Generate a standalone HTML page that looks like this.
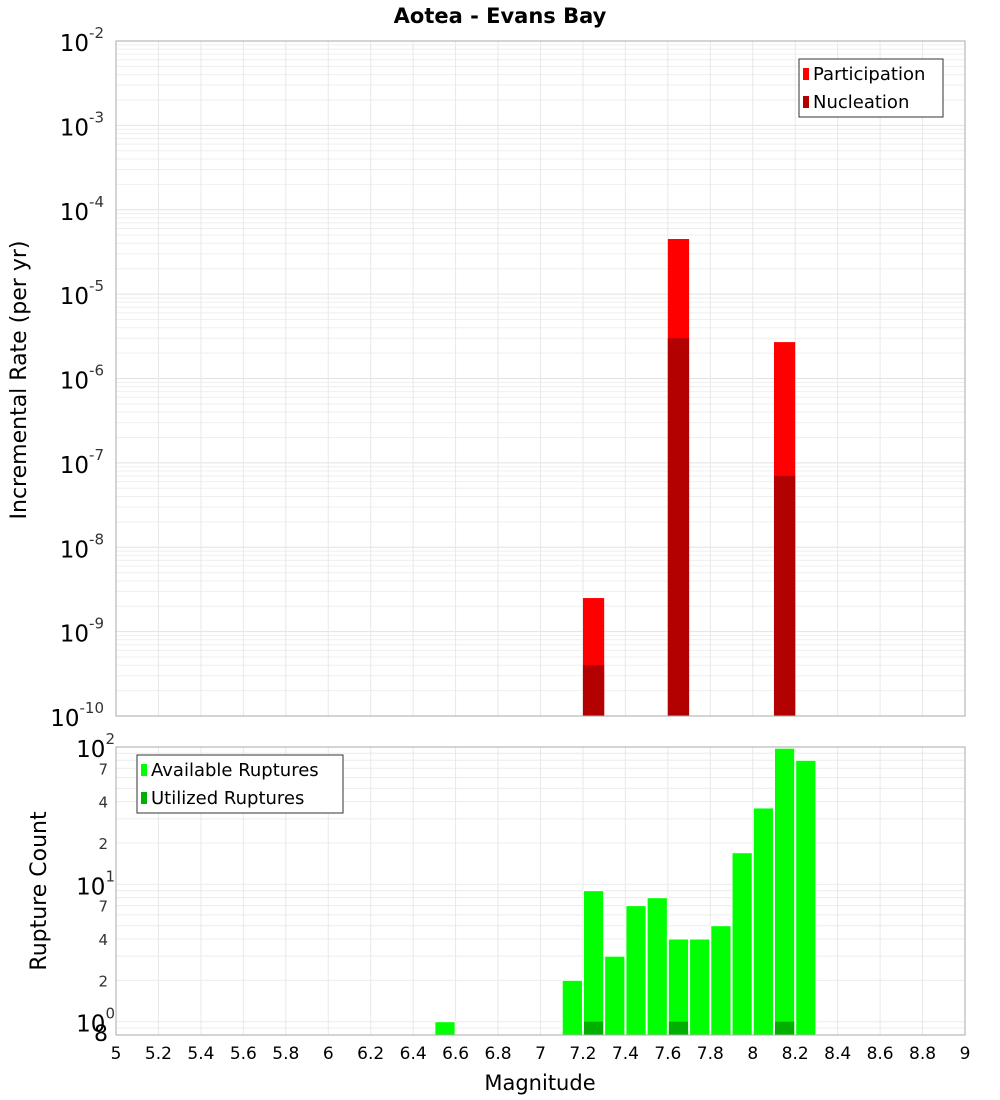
<!DOCTYPE html>
<html><head><meta charset="utf-8"><style>
body{margin:0;background:#fff;}
svg{display:block;font-family:"DejaVu Sans","Liberation Sans",sans-serif;}
</style></head><body>
<svg id="c" width="1000" height="1100"></svg>
<script>
const mags=[7.25,7.65,8.15];
const participation=[2.5e-9,4.5e-5,2.7e-6];
const nucleation=[4e-10,3e-6,7e-8];
const countMags=[6.55,7.15,7.25,7.35,7.45,7.55,7.65,7.75,7.85,7.95,8.05,8.15,8.25];
const available=[1,2,9,3,7,8,4,4,5,17,36,98,80];
const utilMags=[7.25,7.65,8.15];
const utilized=[1,1,1];
const xTicks=[5,5.2,5.4,5.6,5.8,6,6.2,6.4,6.6,6.8,7,7.2,7.4,7.6,7.8,8,8.2,8.4,8.6,8.8,9];
const topExp=[-2,-3,-4,-5,-6,-7,-8,-9,-10];
const botExp=[2,1,0];
const botMinor=[2,4,7];

const NS="http://www.w3.org/2000/svg";
const svg=document.getElementById('c');
function el(t,a,p){const e=document.createElementNS(NS,t);for(const k in a)e.setAttribute(k,a[k]);(p||svg).appendChild(e);return e;}
const L=116,R=965;
const X=v=>L+(v-5)/4*(R-L);
const T0=41,T1=716;
const YT=v=>T0+(-2-Math.log10(v))/8*(T1-T0);
const B0=747,B1=1035,Bmin=0.8,Bmax=100;
const YB=v=>B0+(Math.log10(Bmax)-Math.log10(v))/(Math.log10(Bmax)-Math.log10(Bmin))*(B1-B0);

// title
let t=el('text',{x:500,y:23,'text-anchor':'middle','font-size':21,'font-weight':'bold',fill:'#000'});t.textContent='Aotea - Evans Bay';


// top grid
const gT=el('g',{});
for(let e=-10;e<-2;e++)for(let m=1;m<10;m++){const y=YT(m*Math.pow(10,e));el('line',{x1:L,x2:R,y1:y,y2:y,stroke:m==1?'#e2e2e2':'#efefef','stroke-width':1},gT);}
xTicks.forEach(v=>el('line',{x1:X(v),x2:X(v),y1:T0,y2:T1,stroke:'#e8e8e8'},gT));
// bottom grid
const gB=el('g',{});
[0.8,0.9,1,2,3,4,5,6,7,8,9,10,20,30,40,50,60,70,80,90,100].forEach(v=>{const y=YB(v);el('line',{x1:L,x2:R,y1:y,y2:y,stroke:'#ececec'},gB);});
xTicks.forEach(v=>el('line',{x1:X(v),x2:X(v),y1:B0,y2:B1,stroke:'#e8e8e8'},gB));

// top bars
mags.forEach((m,i)=>{
 let r=el('rect',{x:X(m-0.05),y:YT(participation[i]),width:X(m+0.05)-X(m-0.05),height:T1-YT(participation[i]),fill:'#ff0000'});
 
 let n=el('rect',{x:X(m-0.05),y:YT(nucleation[i]),width:X(m+0.05)-X(m-0.05),height:T1-YT(nucleation[i]),fill:'#b30000'});
 
});
// bottom bars
countMags.forEach((m,i)=>{
 let r=el('rect',{x:X(m-0.05)+0.5,y:YB(available[i]),width:X(m+0.05)-X(m-0.05)-1,height:B1-YB(available[i]),fill:'#00ff00',stroke:'#fff','stroke-width':1});
 
});
utilMags.forEach((m,i)=>{
 let r=el('rect',{x:X(m-0.05)+1,y:YB(utilized[i]),width:X(m+0.05)-X(m-0.05)-2,height:B1-YB(utilized[i]),fill:'#00b000'});
 
});

// frames
let f1=el('rect',{x:L,y:T0,width:R-L,height:T1-T0,fill:'none',stroke:'#aaa'});
let f2=el('rect',{x:L,y:B0,width:R-L,height:B1-B0,fill:'none',stroke:'#aaa'});

// top y labels
topExp.forEach(e=>{
 const y=YT(Math.pow(10,e));
 const g=el('text',{x:104,y:y+10,'text-anchor':'end','font-size':23,fill:'#000'});
 
 const a=el('tspan',{},g);a.textContent='10';
 const b=el('tspan',{dy:-13,'font-size':15,fill:'#333'},g);b.textContent=String(e);
});
// bottom y labels
botExp.forEach(e=>{
 const y=YB(Math.pow(10,e));
 const g=el('text',{x:115,y:y+10,'text-anchor':'end','font-size':23,fill:'#000'});
 
 const a=el('tspan',{},g);a.textContent='10';
 const b=el('tspan',{dy:-13,'font-size':15,fill:'#333'},g);b.textContent=String(e);
});
[1,10].forEach(dec=>botMinor.forEach(m=>{
 let tx=el('text',{x:108,y:YB(m*dec)+6,'text-anchor':'end','font-size':15,fill:'#333'});tx.textContent=String(m);
 
}));
let e8=el('text',{x:108,y:1041,'text-anchor':'end','font-size':22,fill:'#000'});e8.textContent='8';


// x labels
xTicks.forEach(v=>{
 let tx=el('text',{x:X(v),y:1059,'text-anchor':'middle','font-size':17,fill:'#000'});tx.textContent=String(v);
 
});
let xt=el('text',{x:540,y:1090,'text-anchor':'middle','font-size':21,fill:'#000'});xt.textContent='Magnitude';

let yt1=el('text',{x:0,y:0,'text-anchor':'middle','font-size':22,fill:'#000',transform:'translate(26,380) rotate(-90)'});yt1.textContent='Incremental Rate (per yr)';

let yt2=el('text',{x:0,y:0,'text-anchor':'middle','font-size':22,fill:'#000',transform:'translate(46,891) rotate(-90)'});yt2.textContent='Rupture Count';


// legends
function legend(x,y,w,items,name){
 const g=el('g',{});
 el('rect',{x:x,y:y,width:w,height:58,fill:'#fff',stroke:'#333'},g);
 items.forEach((it,i)=>{
  el('rect',{x:x+4,y:y+9+i*28,width:6,height:12,fill:it[1]},g);
  let tx=el('text',{x:x+14,y:y+21+i*28,'font-size':18,fill:'#000'},g);tx.textContent=it[0];
  
 });
}
legend(799,59,144,[['Participation','#ff0000'],['Nucleation','#b30000']],'top-legend');
legend(137,755,206,[['Available Ruptures','#00ff00'],['Utilized Ruptures','#00b000']],'bottom-legend');
</script>
</body></html>
